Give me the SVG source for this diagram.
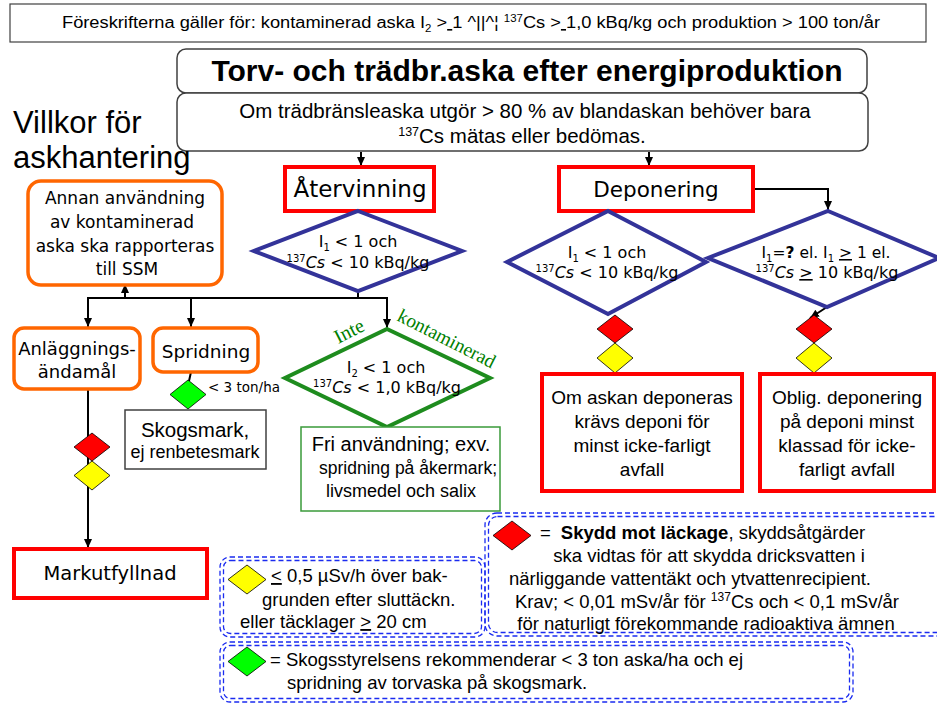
<svg xmlns="http://www.w3.org/2000/svg" width="937" height="705" viewBox="0 0 937 705">
<defs>
<marker id="arr" markerWidth="9" markerHeight="8" refX="9" refY="4" orient="auto" markerUnits="userSpaceOnUse"><path d="M0,0 L9,4 L0,8 z" fill="#000"/></marker>
<style>
.a{font-family:"Liberation Sans",Arial,sans-serif;fill:#000}
.c{font-family:"DejaVu Sans",sans-serif;fill:#000}
.s{font-family:"Liberation Serif","Times New Roman",serif;fill:#008000}
.rb{fill:#fff;stroke:#FF0000;stroke-width:4}
.ob{fill:#fff;stroke:#FF6600;stroke-width:3.5}
.bd{fill:none;stroke:#333399;stroke-width:4}
.gd{fill:#fff;stroke:#1E8C1E;stroke-width:4}
.gb{fill:#fff;stroke:#3A9A3A;stroke-width:1.5}
.kb{fill:#fff;stroke:#404040;stroke-width:1.5}
.ln{fill:none;stroke:#000;stroke-width:2}
.dr{fill:#FF0000;stroke:#000;stroke-width:0.8}
.dy{fill:#FFFF00;stroke:#000;stroke-width:0.8}
.dg{fill:#00FF00;stroke:#000;stroke-width:0.8}
.dash{fill:none;stroke:#1A2BF0;stroke-width:1.3;stroke-dasharray:5 3}
</style>
</defs>
<rect width="937" height="705" fill="#fff"/>

<g id="note">
<rect x="10" y="4" width="916" height="38" fill="#fff" stroke="#404040" stroke-width="1.2"/>
<text class="a" x="471" y="28" font-size="16" text-anchor="middle" textLength="818" lengthAdjust="spacingAndGlyphs">Föreskrifterna gäller för: kontaminerad aska I<tspan font-size="10" dy="4">2</tspan><tspan dy="-4"> &gt;</tspan><tspan text-decoration="underline"> </tspan>1 ^||^¦ <tspan font-size="10" dy="-6">137</tspan><tspan dy="6">Cs &gt;</tspan><tspan text-decoration="underline"> </tspan>1,0 kBq/kg och produktion &gt; 100 ton/år</text>
</g>

<g id="title">
<rect class="kb" x="177" y="49" width="690" height="44" rx="9"/>
<text class="a" x="527" y="81" font-size="30" font-weight="bold" text-anchor="middle">Torv- och trädbr.aska efter energiproduktion</text>
</g>

<g id="info">
<rect class="kb" x="177" y="93" width="691" height="58" rx="9"/>
<text class="a" x="525" y="118" font-size="20.5" text-anchor="middle">Om trädbränsleaska utgör &gt; 80 % av blandaskan behöver bara</text>
<text class="a" x="522" y="143" font-size="20.5" text-anchor="middle"><tspan font-size="12.5" dy="-7">137</tspan><tspan dy="7">Cs mätas eller bedömas.</tspan></text>
</g>

<g id="heading">
<text class="a" x="13" y="133" font-size="31">Villkor för</text>
<text class="a" x="13" y="168" font-size="31">askhantering</text>
</g>

<g id="connectors">
<line class="ln" x1="361" y1="152" x2="361" y2="166" marker-end="url(#arr)"/>
<line class="ln" x1="649" y1="152" x2="649" y2="166" marker-end="url(#arr)"/>
<polyline class="ln" points="358,291 358,298"/>
<line class="ln" x1="87" y1="298" x2="388" y2="298"/>
<line class="ln" x1="125" y1="298" x2="125" y2="284" marker-end="url(#arr)"/>
<line class="ln" x1="88" y1="298" x2="88" y2="327" marker-end="url(#arr)"/>
<line class="ln" x1="191" y1="298" x2="191" y2="327" marker-end="url(#arr)"/>
<line class="ln" x1="387" y1="298" x2="387" y2="328" marker-end="url(#arr)"/>
<polyline class="ln" points="753,189 828,189 828,210" marker-end="url(#arr)"/>
<line class="ln" x1="827" y1="307" x2="810" y2="318" marker-end="url(#arr)"/>
<line class="ln" x1="191" y1="372" x2="189" y2="381"/>
<line class="ln" x1="88" y1="389" x2="88" y2="548" marker-end="url(#arr)"/>
</g>

<g id="atervinning">
<rect class="rb" x="285" y="167" width="149" height="44"/>
<text class="c" x="360" y="197" font-size="23" text-anchor="middle">Återvinning</text>
</g>

<g id="deponering">
<rect class="rb" x="559" y="167" width="194" height="44"/>
<text class="c" x="656" y="197" font-size="21.5" text-anchor="middle">Deponering</text>
</g>

<g id="dec1">
<polygon class="bd" points="358,211 462,251 358,291 254,251"/>
<text class="c" x="358" y="247" font-size="16" text-anchor="middle">I<tspan font-size="10" dy="4">1</tspan><tspan dy="-4"> &lt; 1 och</tspan></text>
<text class="c" x="358" y="268" font-size="16" text-anchor="middle"><tspan font-size="10" dy="-6">137</tspan><tspan dy="6" font-style="italic">Cs</tspan> &lt; 10 kBq/kg</text>
</g>

<g id="dec2">
<polygon class="bd" points="608,211 706,262 608,314 507,262"/>
<text class="c" x="607" y="258" font-size="16" text-anchor="middle">I<tspan font-size="10" dy="4">1</tspan><tspan dy="-4"> &lt; 1 och</tspan></text>
<text class="c" x="607" y="278" font-size="16" text-anchor="middle"><tspan font-size="10" dy="-6">137</tspan><tspan dy="6" font-style="italic">Cs</tspan> &lt; 10 kBq/kg</text>
</g>

<g id="dec3">
<polygon class="bd" points="828,211 939,258 827,307 708,258"/>
<text class="c" x="826" y="258" font-size="15.5" text-anchor="middle">I<tspan font-size="10" dy="4">1</tspan><tspan dy="-4">=<tspan font-weight="bold">?</tspan> el. I</tspan><tspan font-size="10" dy="4">1</tspan><tspan dy="-4"> </tspan><tspan text-decoration="underline">&gt;</tspan> 1 el.</text>
<text class="c" x="827" y="278" font-size="16" text-anchor="middle"><tspan font-size="10" dy="-6">137</tspan><tspan dy="6" font-style="italic">Cs</tspan> <tspan text-decoration="underline">&gt;</tspan> 10 kBq/kg</text>
</g>

<g id="annan">
<rect class="ob" x="28" y="181" width="194" height="104" rx="13"/>
<text class="c" x="125" y="204" font-size="17" text-anchor="middle">Annan användning</text>
<text class="c" x="122" y="228" font-size="17" text-anchor="middle">av kontaminerad</text>
<text class="c" x="125" y="252" font-size="17" text-anchor="middle">aska ska rapporteras</text>
<text class="c" x="127" y="275" font-size="17" text-anchor="middle">till SSM</text>
</g>

<g id="anlaggning">
<rect class="ob" x="14" y="328" width="126" height="61" rx="10"/>
<text class="c" x="77" y="355" font-size="18" text-anchor="middle">Anläggnings-</text>
<text class="c" x="77" y="378" font-size="18" text-anchor="middle">ändamål</text>
</g>

<g id="spridning">
<rect class="ob" x="153" y="328" width="105" height="44" rx="10"/>
<text class="c" x="206" y="358" font-size="18.5" text-anchor="middle">Spridning</text>
</g>

<g id="skog-diamond">
<polygon class="dg" points="188,380 206,394.5 188,409 170,394.5"/>
<text class="c" x="208" y="392" font-size="13.5">&lt; 3 ton/ha</text>
</g>

<g id="skogsmark">
<rect class="kb" x="125" y="410" width="141" height="59"/>
<text class="a" x="195" y="437" font-size="20.5" text-anchor="middle">Skogsmark,</text>
<text class="a" x="195" y="458" font-size="18" text-anchor="middle">ej renbetesmark</text>
</g>

<g id="anl-diamonds">
<polygon class="dr" points="92,433 110,447 92,461 74,447"/>
<polygon class="dy" points="92,461 110,475.5 92,490 74,475.5"/>
</g>

<g id="markutfyllnad">
<rect class="rb" x="14" y="549" width="193" height="49"/>
<text class="c" x="110" y="580" font-size="19.5" text-anchor="middle">Markutfyllnad</text>
</g>

<g id="dec-inte">
<polygon class="gd" points="387,329 490,378 387,427 285,378"/>
<text class="c" x="386" y="373" font-size="16" text-anchor="middle">I<tspan font-size="10" dy="4">2</tspan><tspan dy="-4"> &lt; 1 och</tspan></text>
<text class="c" x="387" y="393" font-size="16" text-anchor="middle"><tspan font-size="10" dy="-6">137</tspan><tspan dy="6" font-style="italic">Cs</tspan> &lt; 1,0 kBq/kg</text>
<text class="s" x="352" y="337" font-size="20" text-anchor="middle" transform="rotate(-27 352 337)">Inte</text>
<text class="s" x="396" y="320" font-size="19.5" transform="rotate(27 396 320)">kontaminerad</text>
</g>

<g id="fri">
<rect class="gb" x="301" y="427" width="199" height="84"/>
<text class="a" x="401" y="451" font-size="20" text-anchor="middle">Fri användning; exv.</text>
<text class="a" x="408" y="474" font-size="17.5" text-anchor="middle">spridning på åkermark;</text>
<text class="a" x="401" y="497" font-size="18" text-anchor="middle">livsmedel och salix</text>
</g>

<g id="dep-diamonds-1">
<polygon class="dr" points="615,315 633,329 615,343 597,329"/>
<polygon class="dy" points="615,343 633,358 615,373 597,358"/>
</g>

<g id="dep-diamonds-2">
<polygon class="dr" points="814,315 832,329 814,343 796,329"/>
<polygon class="dy" points="814,343 832,358 814,373 796,358"/>
</g>

<g id="om-askan">
<rect class="rb" x="542" y="374" width="200" height="117"/>
<text class="a" x="642" y="404" font-size="19" text-anchor="middle">Om askan deponeras</text>
<text class="a" x="642" y="428" font-size="19" text-anchor="middle">krävs deponi för</text>
<text class="a" x="642" y="452" font-size="19" text-anchor="middle">minst icke-farligt</text>
<text class="a" x="642" y="476" font-size="19" text-anchor="middle">avfall</text>
</g>

<g id="oblig">
<rect class="rb" x="760" y="374" width="174" height="117"/>
<text class="a" x="847" y="404" font-size="19" text-anchor="middle">Oblig. deponering</text>
<text class="a" x="847" y="428" font-size="19" text-anchor="middle">på deponi minst</text>
<text class="a" x="847" y="452" font-size="19" text-anchor="middle">klassad för icke-</text>
<text class="a" x="847" y="476" font-size="19" text-anchor="middle">farligt avfall</text>
</g>

<g id="legend-red">
<rect class="dash" x="485" y="513" width="470" height="123" rx="12"/>
<rect class="dash" x="488.5" y="516.5" width="463" height="116" rx="9"/>
<polygon class="dr" points="512,521 531,535.5 512,550 493,535.5"/>
<text class="a" x="540" y="539" font-size="18.5">=<tspan dx="10" font-weight="bold">Skydd mot läckage</tspan>, skyddsåtgärder</text>
<text class="a" x="709" y="562" font-size="18.5" text-anchor="middle">ska vidtas för att skydda dricksvatten i</text>
<text class="a" x="690" y="585" font-size="18.5" text-anchor="middle">närliggande vattentäkt och ytvattenrecipient.</text>
<text class="a" x="707" y="608" font-size="18.5" text-anchor="middle">Krav; &lt; 0,01 mSv/år för <tspan font-size="12" dy="-7">137</tspan><tspan dy="7">Cs  och &lt; 0,1 mSv/år</tspan></text>
<text class="a" x="706" y="630" font-size="18.5" text-anchor="middle">för naturligt förekommande radioaktiva ämnen</text>
</g>

<g id="legend-yellow">
<rect class="dash" x="220" y="557" width="265" height="80" rx="10"/>
<rect class="dash" x="223.5" y="560.5" width="258" height="73" rx="7"/>
<polygon class="dy" points="247,565 266,579.5 247,594 228,579.5"/>
<text class="a" x="271" y="582" font-size="18.5"><tspan text-decoration="underline">&lt;</tspan> 0,5 µSv/h över bak-</text>
<text class="a" x="262" y="606" font-size="18.5">grunden efter sluttäckn.</text>
<text class="a" x="240" y="628" font-size="18.5">eller täcklager <tspan text-decoration="underline">&gt;</tspan> 20 cm</text>
</g>

<g id="legend-green">
<rect class="dash" x="220" y="642" width="633" height="60" rx="10"/>
<rect class="dash" x="223.5" y="645.5" width="626" height="53" rx="7"/>
<polygon class="dg" points="247,647 266,661.5 247,676 228,661.5"/>
<text class="a" x="270" y="666" font-size="18.5">= Skogsstyrelsens rekommenderar &lt; 3 ton aska/ha  och ej</text>
<text class="a" x="287" y="689" font-size="18.5">spridning av torvaska på skogsmark.</text>
</g>
</svg>
